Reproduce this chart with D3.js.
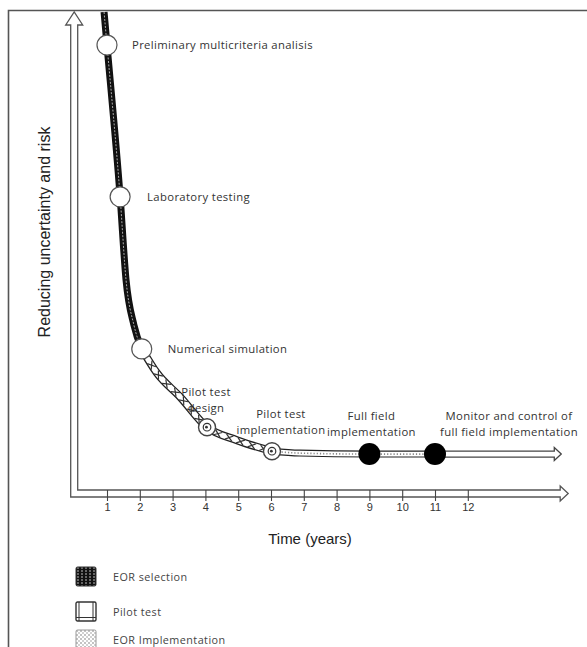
<!DOCTYPE html>
<html>
<head>
<meta charset="utf-8">
<script src="https://cdn.jsdelivr.net/npm/d3@7"></script>
<style>
  html, body { margin: 0; padding: 0; background: #fff; }
  svg { display: block; }
</style>
</head>
<body>
<svg id="chart" width="587" height="647"></svg>
<script>
// ---------- data ----------
const curveTime  = [0.91, 1.0, 1.40, 1.58, 1.82, 2.06, 2.52, 3.23, 4.05, 4.96, 6.03, 6.88, 9.0, 11.0, 14.85];
const curveValue = [100, 93.1, 61.5, 44.2, 34.8, 29.8, 24.8, 19.8, 13.5, 10.8, 8.5, 8.1, 7.9, 7.9, 7.9];

const stageNames = [
  ["Preliminary multicriteria analisis"],
  ["Laboratory testing"],
  ["Numerical simulation"],
  ["Pilot test", "design"],
  ["Pilot test", "implementation"],
  ["Full field", "implementation"],
  ["Monitor and control of", "full field implementation"]
];
const stageTime  = [1.0, 1.40, 2.06, 4.05, 6.03, 9.0, 11.0];
const stageValue = [93.1, 61.5, 29.8, 13.5, 8.5, 7.9, 7.9];
const stageKind  = ["open", "open", "open", "ring", "ring", "filled", "filled"];

// phase boundaries (times)
const phaseNames = ["EOR selection", "Pilot test", "EOR Implementation", "Monitor"];
const phaseStart = [0.91, 2.06, 6.03, 11.0];
const phaseEnd   = [2.06, 6.03, 11.0, 14.85];

const tickValues = [1,2,3,4,5,6,7,8,9,10,11,12];
const xTitle = "Time (years)";
const yTitle = "Reducing uncertainty and risk";
const legendNames = ["EOR selection", "Pilot test", "EOR Implementation"];

// ---------- layout ----------
const svg = d3.select("#chart");
const x = d3.scaleLinear().domain([0, 15]).range([74.2, 566.2]);
const y = d3.scaleLinear().domain([0, 100]).range([492, 12]);
const labelFont = "'Open Sans', Lato, sans-serif";

// frame
svg.append("path").attr("d", "M8.5,647 L8.5,10.5 L587,10.5")
  .attr("fill", "none").attr("stroke", "#555").attr("stroke-width", 1.6);

// defs / patterns
const defs = svg.append("defs");
const p1 = defs.append("pattern").attr("id", "pSel").attr("patternUnits", "userSpaceOnUse")
  .attr("width", 4).attr("height", 3);
p1.append("rect").attr("width", 4).attr("height", 3).attr("fill", "#111");
p1.append("rect").attr("x", 1.5).attr("y", 0).attr("width", 1).attr("height", 2).attr("fill", "#bbb");
const p3 = defs.append("pattern").attr("id", "pImp").attr("patternUnits", "userSpaceOnUse")
  .attr("width", 4).attr("height", 4);
p3.append("rect").attr("width", 4).attr("height", 4).attr("fill", "#fff");
p3.append("circle").attr("cx", 1).attr("cy", 1).attr("r", 0.8).attr("fill", "#777");
p3.append("circle").attr("cx", 3).attr("cy", 3).attr("r", 0.8).attr("fill", "#999");

// ---------- axes (hollow arrows) ----------
const x0 = x(0), yb = y(0);
const axisPath = [
  [x0 + 3.5, yb - 2], [x0 + 3.5, y(100) + 13], [x0 + 8.5, y(100) + 13], [x0, y(100)],
  [x0 - 8.5, y(100) + 13], [x0 - 3.5, y(100) + 13], [x0 - 3.5, yb + 5],
  [x(15) - 6, yb + 5], [x(15) - 6, yb + 9], [x(15) + 2, yb + 1.5], [x(15) - 6, yb - 6],
  [x(15) - 6, yb - 2]
];
svg.append("path").attr("d", d3.line()(axisPath) + "Z")
  .attr("fill", "#fff").attr("stroke", "#555").attr("stroke-width", 1.3);

// x ticks
const xAxis = d3.axisBottom(x).tickValues(tickValues).tickSize(11).tickPadding(2).tickFormat(d3.format("d"));
const gx = svg.append("g").attr("transform", `translate(0,${yb - 2})`).call(xAxis);
gx.select(".domain").remove();
gx.selectAll(".tick line").attr("stroke", "#444").attr("stroke-width", 1.1);
gx.selectAll(".tick text").attr("fill", "#333")
  .style("font-family", "'Liberation Sans Narrow', 'Liberation Sans', Arial, sans-serif")
  .style("font-size", "11px");

// axis titles
svg.append("text").attr("x", 310).attr("y", 544).attr("text-anchor", "middle")
  .style("font-family", "'Liberation Sans', Arial, sans-serif").style("font-size", "15px")
  .attr("fill", "#222").text(xTitle);
svg.append("text").attr("transform", "translate(50,232) rotate(-90)").attr("text-anchor", "middle")
  .style("font-family", "'Liberation Sans', Arial, sans-serif").style("font-size", "16px")
  .attr("fill", "#222").text(yTitle);

// ---------- curve ----------
const pts = curveTime.map((t, i) => [t, curveValue[i]]);
const line = d3.line().x(d => x(d[0])).y(d => y(d[1])).curve(d3.curveMonotoneX);
function segment(t0, t1) {
  return pts.filter(p => p[0] >= t0 - 1e-9 && p[0] <= t1 + 1e-9);
}
const bandW = 7;
const gCurve = svg.append("g");

// phase 0: EOR selection (dark hatched)
const seg0 = line(segment(phaseStart[0], phaseEnd[0]));
gCurve.append("path").attr("d", seg0).attr("fill", "none").attr("stroke", "#111").attr("stroke-width", bandW);
gCurve.append("path").attr("d", seg0).attr("fill", "none").attr("stroke", "#aaa")
  .attr("stroke-width", 1).attr("stroke-dasharray", "2,1.5");

// phase 1: pilot test (hollow with crosses)
const bw1 = 8;
const seg1 = line(segment(phaseStart[1], phaseEnd[1]));
gCurve.append("path").attr("d", seg1).attr("fill", "none").attr("stroke", "#222").attr("stroke-width", bw1);
const p1path = gCurve.append("path").attr("d", seg1).attr("fill", "none").attr("stroke", "#fff").attr("stroke-width", bw1 - 2.6);
const node = p1path.node(), L = node.getTotalLength();
for (let s = 7; s < L - 4; s += 12) {
  const a = node.getPointAtLength(s - 0.5), b = node.getPointAtLength(s + 0.5);
  const ang = Math.atan2(b.y - a.y, b.x - a.x);
  const c = node.getPointAtLength(s);
  const h = bw1 / 2 - 1.2;
  [1, -1].forEach(sg => {
    const dx = Math.cos(ang) * h * 1.3 * sg, dy = Math.sin(ang) * h * 1.3 * sg;
    const nx = -Math.sin(ang) * h, ny = Math.cos(ang) * h;
    gCurve.append("line")
      .attr("x1", c.x - dx - nx).attr("y1", c.y - dy - ny)
      .attr("x2", c.x + dx + nx).attr("y2", c.y + dy + ny)
      .attr("stroke", "#333").attr("stroke-width", 1.2);
  });
}

// phase 2: EOR implementation (dotted)
const seg2 = line(segment(phaseStart[2], phaseEnd[2]));
gCurve.append("path").attr("d", seg2).attr("fill", "none").attr("stroke", "#222").attr("stroke-width", bandW);
gCurve.append("path").attr("d", seg2).attr("fill", "none").attr("stroke", "#fff").attr("stroke-width", bandW - 2.4);
gCurve.append("path").attr("d", seg2).attr("fill", "none").attr("stroke", "#888")
  .attr("stroke-width", 1.6).attr("stroke-dasharray", "1.2,2");

// phase 3: monitoring – hollow arrow
const s3 = segment(phaseStart[3], phaseEnd[3]);
const ax0 = x(s3[0][0]), ax1 = x(s3[s3.length - 1][0]), ay = y(s3[0][1]);
const arrow = [
  [ax0, ay - 3], [ax1 - 7, ay - 3], [ax1 - 7, ay - 6.5], [ax1, ay], [ax1 - 7, ay + 6.5],
  [ax1 - 7, ay + 3], [ax0, ay + 3]
];
gCurve.append("path").attr("d", d3.line()(arrow)).attr("fill", "#fff")
  .attr("stroke", "#444").attr("stroke-width", 1.3);

// ---------- milestones ----------
const gM = svg.append("g");
stageTime.forEach((t, i) => {
  const cx = x(t), cy = y(stageValue[i]);
  const k = stageKind[i];
  if (k === "open") {
    gM.append("circle").attr("cx", cx).attr("cy", cy).attr("r", 10)
      .attr("fill", "#fff").attr("stroke", "#555").attr("stroke-width", 1.2);
  } else if (k === "ring") {
    gM.append("circle").attr("cx", cx).attr("cy", cy).attr("r", 8.5)
      .attr("fill", "#fff").attr("stroke", "#444").attr("stroke-width", 1.4);
    gM.append("circle").attr("cx", cx).attr("cy", cy).attr("r", 3.8)
      .attr("fill", "#fff").attr("stroke", "#333").attr("stroke-width", 1.2);
    gM.append("circle").attr("cx", cx - 0.6).attr("cy", cy).attr("r", 1.4).attr("fill", "#333");
  } else {
    gM.append("circle").attr("cx", cx).attr("cy", cy).attr("r", 11).attr("fill", "#000");
  }
});

// ---------- stage labels ----------
const labelLayout = [
  { dx: 25, dy: 4, anchor: "start" },
  { dx: 27, dy: 4, anchor: "start" },
  { dx: 26, dy: 4, anchor: "start" },
  { dx: -1, dy: -31, anchor: "middle" },
  { dx: 9, dy: -33, anchor: "middle" },
  { dx: 2, dy: -34, anchor: "middle" },
  { dx: 74, dy: -34, anchor: "middle" }
];
const gL = svg.append("g").style("font-family", labelFont).attr("fill", "#333");
stageNames.forEach((lines, i) => {
  const lay = labelLayout[i];
  const tx = gL.append("text")
    .attr("x", x(stageTime[i]) + lay.dx).attr("y", y(stageValue[i]) + lay.dy)
    .attr("text-anchor", lay.anchor).style("font-size", "11.3px").style("letter-spacing", "0.35px");
  lines.forEach((s, j) => {
    tx.append("tspan").attr("x", x(stageTime[i]) + lay.dx).attr("dy", j === 0 ? 0 : 16).text(s);
  });
});

// ---------- legend ----------
const gLeg = svg.append("g");
const legY = [567, 602, 630];
legendNames.forEach((name, i) => {
  const g = gLeg.append("g").attr("transform", `translate(76,${legY[i]})`);
  if (i === 0) {
    g.append("rect").attr("width", 20).attr("height", 19).attr("rx", 1.5).attr("fill", "url(#pSel)")
      .attr("stroke", "#333").attr("stroke-width", 1);
  } else if (i === 1) {
    g.append("rect").attr("width", 20).attr("height", 19).attr("rx", 1.5).attr("fill", "#fff")
      .attr("stroke", "#333").attr("stroke-width", 1.4);
    g.append("line").attr("x1", 3).attr("x2", 3).attr("y1", 0).attr("y2", 19).attr("stroke", "#333");
    g.append("line").attr("x1", 17).attr("x2", 17).attr("y1", 0).attr("y2", 19).attr("stroke", "#333");
    g.append("line").attr("x1", 0).attr("x2", 20).attr("y1", 15.5).attr("y2", 15.5).attr("stroke", "#333");
  } else {
    g.append("rect").attr("width", 20).attr("height", 19).attr("rx", 1.5).attr("fill", "url(#pImp)")
      .attr("stroke", "#999").attr("stroke-width", 1);
  }
  g.append("text").attr("x", 37).attr("y", 14).style("font-family", labelFont)
    .style("font-size", "10.8px").style("letter-spacing", "0.45px").attr("fill", "#444").text(name);
});
</script>
</body>
</html>
